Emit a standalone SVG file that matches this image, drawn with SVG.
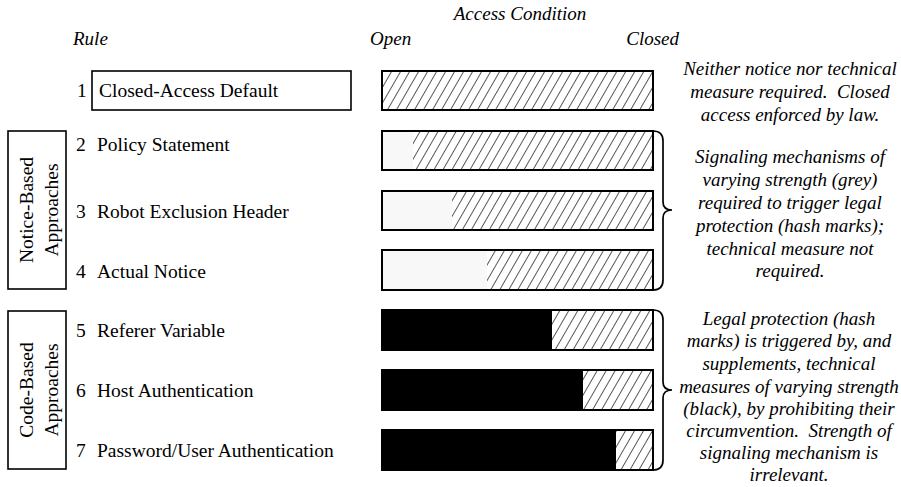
<svg xmlns="http://www.w3.org/2000/svg" width="901" height="487" viewBox="0 0 901 487">
<style>
.lbl{font-family:"Liberation Serif","Times New Roman",serif;font-size:19.5px;fill:#000}
.it{font-family:"Liberation Serif","Times New Roman",serif;font-size:19px;font-style:italic;fill:#000}
.rt{font-family:"Liberation Serif","Times New Roman",serif;font-size:19px;font-style:italic;fill:#000;text-anchor:middle}
.box{fill:#fff;stroke:#000;stroke-width:1.6}
.frame{fill:none;stroke:#000;stroke-width:2}
.brace{fill:none;stroke:#000;stroke-width:1.7}
.grey{fill:#f8f8f8}
.blk{fill:#000}
.hash{fill:url(#hatch)}
</style>
<defs>
<pattern id="hatch" patternUnits="userSpaceOnUse" width="7.8" height="10" patternTransform="rotate(30)">
<rect width="7.8" height="10" fill="#fff"/>
<line x1="0" y1="0" x2="0" y2="10" stroke="#000" stroke-width="1.3"/>
</pattern>
</defs>
<rect width="901" height="487" fill="#fff"/>

<g id="headers">
<text class="it" x="520" y="20" text-anchor="middle">Access Condition</text>
<text class="it" x="73" y="45">Rule</text>
<text class="it" x="370" y="45">Open</text>
<text class="it" x="679" y="45" text-anchor="end">Closed</text>
</g>

<g id="group-notice">
<rect class="box" x="8" y="131" width="58" height="158"/>
<text class="lbl" transform="translate(33,210) rotate(-90)" text-anchor="middle">Notice-Based</text>
<text class="lbl" transform="translate(58,210) rotate(-90)" text-anchor="middle">Approaches</text>
</g>
<g id="group-code">
<rect class="box" x="8" y="311" width="58" height="158"/>
<text class="lbl" transform="translate(33,390) rotate(-90)" text-anchor="middle">Code-Based</text>
<text class="lbl" transform="translate(58,390) rotate(-90)" text-anchor="middle">Approaches</text>
</g>

<g id="rule1">
<text class="lbl" x="77" y="97">1</text>
<rect class="box" x="92" y="71" width="259" height="39"/>
<text class="lbl" x="99" y="97">Closed-Access Default</text>
</g>
<g id="rule2"><text class="lbl" x="76" y="151">2</text><text class="lbl" x="97" y="151">Policy Statement</text></g>
<g id="rule3"><text class="lbl" x="76" y="218">3</text><text class="lbl" x="97" y="218">Robot Exclusion Header</text></g>
<g id="rule4"><text class="lbl" x="76" y="278">4</text><text class="lbl" x="97" y="278">Actual Notice</text></g>
<g id="rule5"><text class="lbl" x="76" y="337">5</text><text class="lbl" x="97" y="337">Referer Variable</text></g>
<g id="rule6"><text class="lbl" x="76" y="397">6</text><text class="lbl" x="97" y="397">Host Authentication</text></g>
<g id="rule7"><text class="lbl" x="76" y="457">7</text><text class="lbl" x="97" y="457">Password/User Authentication</text></g>

<g id="bar1">
<rect class="hash" x="382" y="71" width="271" height="39"/>
<rect class="frame" x="382" y="71" width="271" height="39"/>
</g>
<g id="bar2">
<rect class="grey" x="382" y="131" width="31" height="39"/>
<rect class="hash" x="413" y="131" width="240" height="39"/>
<rect class="frame" x="382" y="131" width="271" height="39"/>
</g>
<g id="bar3">
<rect class="grey" x="382" y="191" width="70" height="39"/>
<rect class="hash" x="452" y="191" width="201" height="39"/>
<rect class="frame" x="382" y="191" width="271" height="39"/>
</g>
<g id="bar4">
<rect class="grey" x="382" y="250" width="105" height="40"/>
<rect class="hash" x="487" y="250" width="166" height="40"/>
<rect class="frame" x="382" y="250" width="271" height="40"/>
</g>
<g id="bar5">
<rect class="hash" x="552" y="310" width="101" height="40"/>
<rect class="frame" x="382" y="310" width="271" height="40"/>
<rect class="blk" x="382" y="310" width="170" height="40"/>
</g>
<g id="bar6">
<rect class="hash" x="583" y="370" width="70" height="40"/>
<rect class="frame" x="382" y="370" width="271" height="40"/>
<rect class="blk" x="382" y="370" width="201" height="40"/>
</g>
<g id="bar7">
<rect class="hash" x="616" y="430" width="37" height="40"/>
<rect class="frame" x="382" y="430" width="271" height="40"/>
<rect class="blk" x="382" y="430" width="234" height="40"/>
</g>

<g id="connectors">
<path class="brace" d="M653 131 Q663 131 663 141 L663 202 Q663 210 672 210 Q663 210 663 218 L663 280 Q663 290 653 290"/>
<path class="brace" d="M653 310 Q663 310 663 320 L663 382 Q663 390 672 390 Q663 390 663 398 L663 460 Q663 470 653 470"/>
</g>

<g id="note1">
<text class="rt" x="790" y="75">Neither notice nor technical</text>
<text class="rt" x="790" y="98" xml:space="preserve">measure required.  Closed</text>
<text class="rt" x="790" y="121">access enforced by law.</text>
</g>
<g id="note2">
<text class="rt" x="790" y="163">Signaling mechanisms of</text>
<text class="rt" x="790" y="186">varying strength (grey)</text>
<text class="rt" x="790" y="209">required to trigger legal</text>
<text class="rt" x="790" y="232">protection (hash marks);</text>
<text class="rt" x="790" y="255">technical measure not</text>
<text class="rt" x="790" y="277">required.</text>
</g>
<g id="note3">
<text class="rt" x="789" y="325">Legal protection (hash</text>
<text class="rt" x="789" y="347">marks) is triggered by, and</text>
<text class="rt" x="789" y="370">supplements, technical</text>
<text class="rt" x="789" y="393">measures of varying strength</text>
<text class="rt" x="789" y="415">(black), by prohibiting their</text>
<text class="rt" x="789" y="437" xml:space="preserve">circumvention.  Strength of</text>
<text class="rt" x="789" y="459">signaling mechanism is</text>
<text class="rt" x="789" y="481">irrelevant.</text>
</g>
</svg>
